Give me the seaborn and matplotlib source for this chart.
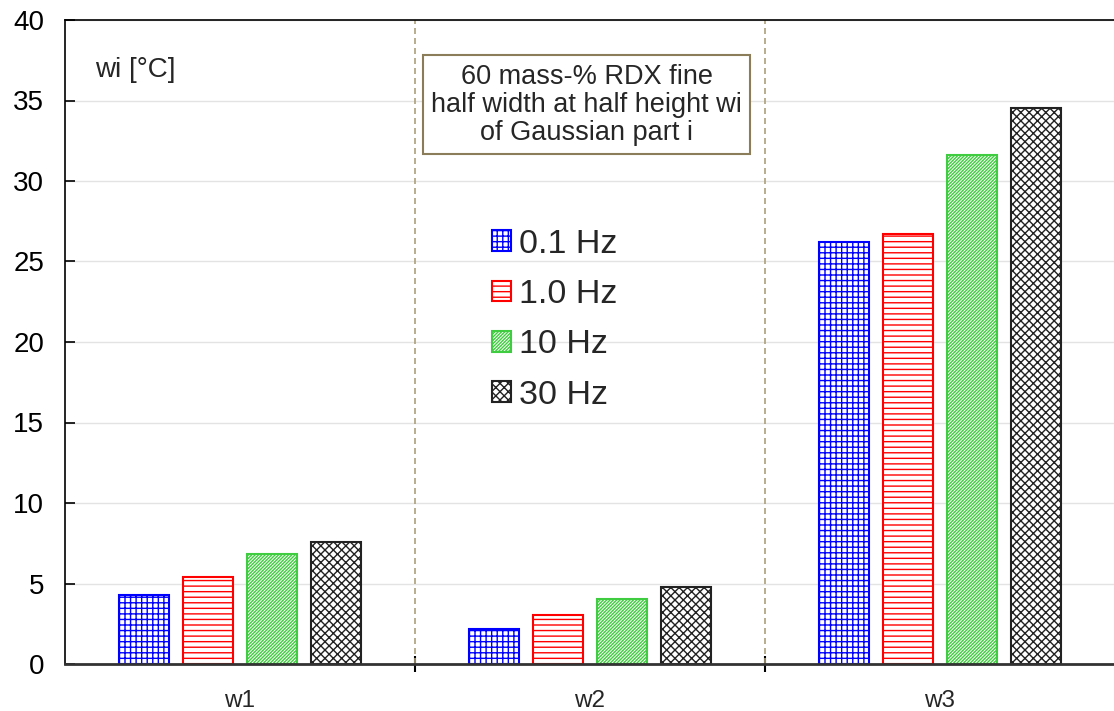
import matplotlib
matplotlib.use("Agg")
import matplotlib.pyplot as plt
import seaborn as sns
import pandas as pd
from matplotlib.ticker import FixedLocator
from matplotlib.patches import Patch

categories = ["w1", "w2", "w3"]
frequencies = ["0.1 Hz", "1.0 Hz", "10 Hz", "30 Hz"]
vals_01 = [4.3, 2.2, 26.2]
vals_10 = [5.4, 3.05, 26.7]
vals_10hz = [6.85, 4.05, 31.6]
vals_30 = [7.6, 4.8, 34.55]

rows = []
for f, vals in zip(frequencies, [vals_01, vals_10, vals_10hz, vals_30]):
    for c, v in zip(categories, vals):
        rows.append({"component": c, "freq": f, "value": v})
df = pd.DataFrame(rows)

sns.set_theme(style="white")
plt.rcParams['font.family'] = ['Liberation Sans', 'DejaVu Sans']
plt.rcParams['hatch.linewidth'] = 1.0

fig = plt.figure(figsize=(11.14, 7.11), dpi=100)
ax = fig.add_axes([65/1114, 1-664/711, 1050/1114, 644/711])

colors = ["#0000ff", "#ff0000", "#40cc40", "#222222"]
hatches = ["+++", "---", "/" * 10, "xxxx"]

sns.barplot(data=df, x="component", y="value", hue="freq", hue_order=frequencies,
            order=categories, width=0.731, gap=0.22, ax=ax, legend=False,
            errorbar=None)

for i, f in enumerate(frequencies):
    cont = ax.containers[i]
    for p in cont:
        p.set_facecolor("white")
        p.set_edgecolor(colors[i])
        p.set_hatch(hatches[i])
        p.set_linewidth(1.5)

ax.set_xlim(-0.5, 2.5)
ax.set_ylim(0, 40)
ax.set_yticks(range(0, 41, 5))
ax.yaxis.grid(True, color="#e3e3e3", linewidth=1.0)
ax.set_axisbelow(True)
ax.set_xlabel("")
ax.set_ylabel("")
ax.tick_params(axis="y", labelsize=20, length=7, width=1.2, direction="in", left=True, pad=15, colors="black")
ax.tick_params(axis="x", which="major", labelsize=17.5, length=0, pad=19)
ax.xaxis.set_minor_locator(FixedLocator([0.5, 1.5]))
ax.tick_params(axis="x", which="minor", length=12, width=1.5, direction="inout", bottom=True, color="black")

for s in ["left", "bottom", "top"]:
    ax.spines[s].set_visible(True)
    ax.spines[s].set_color("black")
    ax.spines[s].set_linewidth(1.2)
ax.spines["bottom"].set_color("#333333")
ax.spines["bottom"].set_linewidth(2)
ax.spines["right"].set_visible(False)

for xv in [0.5, 1.5]:
    ax.axvline(xv, color="#ad9f7c", linestyle=(0, (3.6, 2.4)), linewidth=1.2, zorder=1)

ax.text(-0.413, 36.9, "wi [°C]", fontsize=20, ha="left", va="center")
ax.text(0.99, 34.75, "60 mass-% RDX fine\nhalf width at half height wi\nof Gaussian part i",
        fontsize=19.5, ha="center", va="center", linespacing=1.1,
        bbox=dict(boxstyle="square,pad=0.3", facecolor="white", edgecolor="#8b7d5a", linewidth=1.5))

handles = [Patch(facecolor="white", edgecolor=colors[i], hatch=hatches[i], linewidth=1.5, label=frequencies[i])
           for i in range(4)]
leg = ax.legend(handles=handles, loc="upper left", bbox_to_anchor=(461/1114, 1-198/711),
                bbox_transform=fig.transFigure, frameon=False, fontsize=24.5,
                handlelength=0.56, handleheight=0.56, handletextpad=0.24, labelspacing=0.57)

fig.savefig("out.png", dpi=100)
